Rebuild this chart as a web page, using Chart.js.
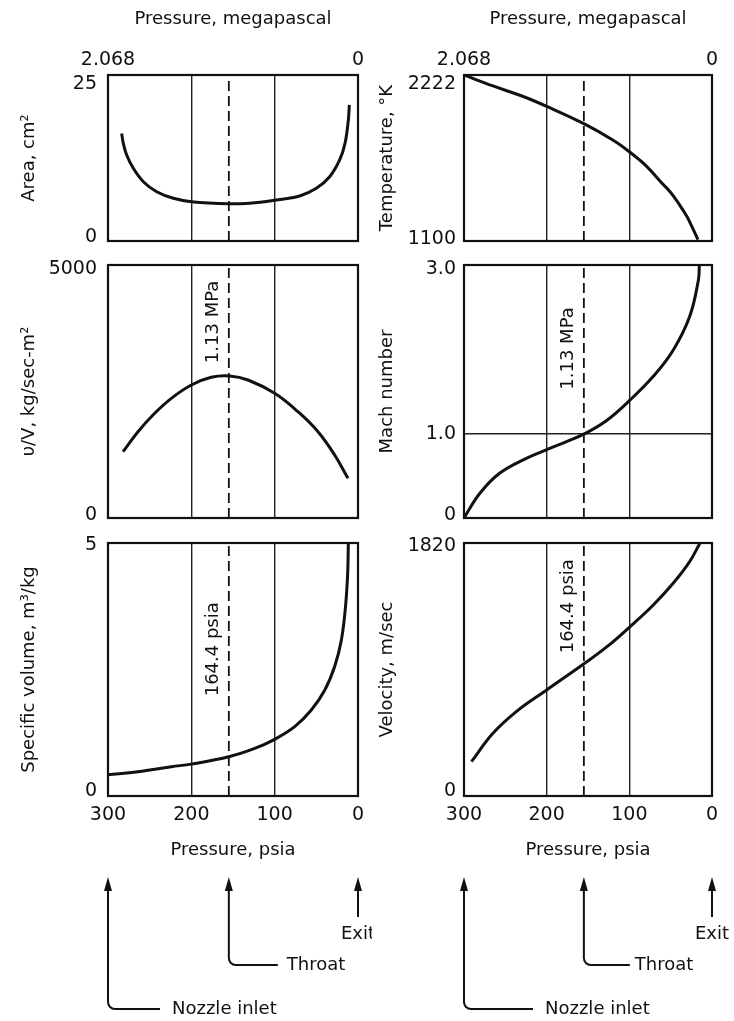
<!DOCTYPE html>
<html><head><meta charset="utf-8">
<script src="https://cdn.jsdelivr.net/npm/chart.js@4/dist/chart.umd.min.js"></script>
<style>
html,body{margin:0;padding:0;background:#fff;}
body{width:734px;height:1021px;position:relative;overflow:hidden;}
canvas{position:absolute;}
</style></head><body>
<canvas id="c11" width="372" height="250" style="left:0;top:0"></canvas>
<canvas id="c12" width="364" height="250" style="left:370px;top:0"></canvas>
<canvas id="c21" width="372" height="277" style="left:0;top:250px"></canvas>
<canvas id="c22" width="364" height="277" style="left:370px;top:250px"></canvas>
<canvas id="c31" width="372" height="494" style="left:0;top:527px"></canvas>
<canvas id="c32" width="364" height="494" style="left:370px;top:527px"></canvas>
<script>
// ---------- data (pressure in psia on x) ----------
const xTicksPsia = [300, 200, 100, 0];
const gridPsia = [200, 100];
const topTickLabels = ['2.068', '', '', '0'];        // megapascal
const bottomTickLabels = ['300', '200', '100', '0'];  // psia
const throatPsia = 155;                               // drawn throat line position
const throatLabelMPa = '1.13 MPa';
const throatLabelPsia = '164.4 psia';
const stationPsia = [300, throatPsia, 0];
const stationNames = ['Nozzle inlet', 'Throat', 'Exit'];

const areaPsia = [283.6, 281.6, 277.6, 269.6, 257.6, 241.6, 221.6, 200, 155, 130, 100, 70, 50, 34, 22, 15.6, 11.6, 10.4];
const areaCm2  = [16.2, 14.7, 12.95, 10.95, 8.93, 7.42, 6.43, 5.92, 5.6, 5.7, 6.15, 6.78, 7.94, 9.68, 12.2, 14.7, 18.2, 20.5];
const areaTicks = [0, 25];
const areaTickLabels = ['0', '25'];

const tempPsia = [300, 265, 230, 200, 155, 120, 100, 80, 63, 50, 39, 30, 23, 17];
const tempK    = [2222, 2148, 2080, 2010, 1893, 1782, 1703, 1610, 1505, 1428, 1342, 1262, 1182, 1110];
const tempTicks = [1100, 2222];
const tempTickLabels = ['1100', '2222'];

const fluxPsia = [282, 264, 244, 224, 200, 176, 154, 132, 100, 72, 48, 28, 12];
const fluxVals = [1310, 1705, 2069, 2365, 2628, 2780, 2806, 2727, 2464, 2100, 1705, 1245, 784];
const fluxTicks = [0, 5000];
const fluxTickLabels = ['0', '5000'];

const machPsia = [300, 281, 257, 224, 200, 176, 154, 127, 99, 71, 47, 27, 16.5, 15.3];
const machVals = [0, 0.29, 0.53, 0.71, 0.81, 0.905, 1.0, 1.16, 1.40, 1.68, 1.99, 2.39, 2.82, 3.0];
const machTicks = [0, 1, 3];
const machTickLabels = ['0', '1.0', '3.0'];
const machGrid = [1];

const volPsia = [300, 264, 224, 200, 154, 124, 100, 76, 56, 40, 28, 20, 15, 12.4, 11.6];
const volVals = [0.42, 0.48, 0.58, 0.63, 0.78, 0.94, 1.12, 1.37, 1.70, 2.09, 2.56, 3.08, 3.74, 4.40, 5.0];
const volTicks = [0, 5];
const volTickLabels = ['0', '5'];

const velPsia = [291, 265, 236, 200, 154, 127, 99, 71, 47, 27, 14.5];
const velVals = [247, 451, 611, 763, 955, 1074, 1219, 1374, 1530, 1686, 1820];
const velTicks = [0, 1820];
const velTickLabels = ['0', '1820'];

// ---------- layout / style ----------
Chart.defaults.font.family = "'DejaVu Sans', 'Liberation Sans', sans-serif";
Chart.defaults.color = '#111';
const INK = '#111';
const COLS = {
  L: {axisW: 108, padR: 14, titlePad: 19, tickPad: 11,
      arrows: {nozzleLen: 52, nozzleGap: 12, throatLen: 49, throatGap: 9}},
  R: {axisW: 94, padR: 22, titlePad: 7, tickPad: 8,
      arrows: {nozzleLen: 69, nozzleGap: 12, throatLen: 46, throatGap: 5}}
};
const ROWS = {
  1: {padT: 0, padB: 9, xH: 75},
  2: {padT: 15, padB: 9, xH: 0},
  3: {padT: 16, padB: 155, xH: 70}
};

function zeroPad(s) { s.paddingTop = 0; s.paddingBottom = 0; s.paddingLeft = 0; s.paddingRight = 0; }

const framePlugin = {
  id: 'frame',
  afterDatasetsDraw(chart) {
    const a = chart.chartArea, ctx = chart.ctx;
    ctx.save(); ctx.strokeStyle = INK; ctx.lineWidth = 2.2;
    ctx.strokeRect(a.left, a.top, a.right - a.left, a.bottom - a.top);
    ctx.restore();
  }
};

function shiftPlugin(shifts) {
  return {
    id: 'shiftLabels',
    beforeDraw(chart) {
      try {
        const items = chart.scales.y.getLabelItems();
        items.forEach((it, i) => {
          if (!it._sh) { it.options.translation[1] += (shifts[i] || 0); it._sh = true; }
        });
      } catch (e) {}
    }
  };
}

function throatTextPlugin(text, frac) {
  return {
    id: 'throatText',
    afterDatasetsDraw(chart) {
      const a = chart.chartArea, ctx = chart.ctx;
      const x = chart.scales.x.getPixelForValue(throatPsia) - 16;
      const y = a.top + frac * (a.bottom - a.top);
      ctx.save();
      ctx.translate(x, y); ctx.rotate(-Math.PI / 2);
      ctx.font = "18px 'DejaVu Sans'"; ctx.fillStyle = INK;
      ctx.textAlign = 'center'; ctx.textBaseline = 'middle';
      ctx.fillText(text, 0, 0);
      ctx.restore();
    }
  };
}

function arrowPlugin(cfg) {
  return {
    id: 'stations',
    afterDraw(chart) {
      const ctx = chart.ctx, xs = chart.scales.x, b = chart.chartArea.bottom;
      const headTop = b + 81, r = 7;
      ctx.save();
      ctx.strokeStyle = INK; ctx.fillStyle = INK; ctx.lineWidth = 2;
      ctx.font = "18px 'DejaVu Sans'"; ctx.textBaseline = 'middle';
      stationPsia.forEach((p, i) => {
        const x = xs.getPixelForValue(p);
        ctx.beginPath();
        ctx.moveTo(x, headTop); ctx.lineTo(x - 4, headTop + 14); ctx.lineTo(x + 4, headTop + 14);
        ctx.closePath(); ctx.fill();
        ctx.beginPath();
        if (i === 2) {
          ctx.moveTo(x, headTop + 10); ctx.lineTo(x, b + 121); ctx.stroke();
          ctx.textAlign = 'center';
          ctx.fillText(stationNames[i], x, b + 138);
        } else {
          const yH = i === 0 ? b + 213 : b + 169;
          const len = i === 0 ? cfg.nozzleLen : cfg.throatLen;
          const gap = i === 0 ? cfg.nozzleGap : cfg.throatGap;
          ctx.moveTo(x, headTop + 10); ctx.lineTo(x, yH - r);
          ctx.arcTo(x, yH, x + r, yH, r); ctx.lineTo(x + len, yH); ctx.stroke();
          ctx.textAlign = 'left';
          ctx.fillText(stationNames[i], x + len + gap, yH);
        }
      });
      ctx.restore();
    }
  };
}

function build(id, o) {
  const col = COLS[o.col], row = ROWS[o.row];
  const yMin = o.yTicks[0], yMax = o.yTicks[o.yTicks.length - 1];
  const plugins = [framePlugin, shiftPlugin(o.shifts)];
  if (o.throatText) plugins.push(throatTextPlugin(o.throatText, o.throatFrac));
  if (o.row === 3) plugins.push(arrowPlugin(col.arrows));
  const xLabels = o.row === 1 ? topTickLabels : bottomTickLabels;
  return new Chart(document.getElementById(id), {
    type: 'line',
    data: {
      datasets: [
        {data: o.px.map((p, i) => ({x: p, y: o.py[i]})), borderColor: INK, borderWidth: 3,
         pointRadius: 0, tension: 0.4, fill: false},
        {data: [{x: throatPsia, y: yMin}, {x: throatPsia, y: yMax}], borderColor: INK,
         borderWidth: 1.8, borderDash: [10, 5], pointRadius: 0, fill: false}
      ]
    },
    options: {
      responsive: false, animation: false, devicePixelRatio: 1,
      layout: {padding: {left: 0, right: col.padR, top: row.padT, bottom: row.padB}},
      plugins: {legend: {display: false}, tooltip: {enabled: false}},
      scales: {
        x: {
          type: 'linear', min: 0, max: 300, reverse: true,
          position: o.row === 1 ? 'top' : 'bottom',
          afterBuildTicks: s => { s.ticks = xTicksPsia.map(v => ({value: v})); },
          afterFit: s => { s.height = row.xH; zeroPad(s); },
          border: {display: false},
          grid: {drawTicks: false, lineWidth: 1.4,
                 color: c => (c.tick && gridPsia.includes(c.tick.value)) ? '#222' : 'rgba(0,0,0,0)'},
          ticks: {display: o.row !== 2, padding: o.row === 1 ? 4 : 7.6, autoSkip: false, maxRotation: 0,
                  font: {size: 19}, color: INK, callback: (v, i) => xLabels[i]},
          title: {display: o.row !== 2,
                  text: o.row === 1 ? 'Pressure, megapascal' : 'Pressure, psia',
                  font: {size: 18}, color: INK,
                  padding: o.row === 1 ? {top: 9, bottom: 0} : {top: 0, bottom: 5}}
        },
        y: {
          type: 'linear', min: yMin, max: yMax, position: 'left',
          afterBuildTicks: s => { s.ticks = o.yTicks.map(v => ({value: v})); },
          afterFit: s => { s.width = col.axisW; zeroPad(s); },
          border: {display: false},
          grid: {drawTicks: false, lineWidth: 1.4,
                 color: c => (o.yGrid && c.tick && o.yGrid.includes(c.tick.value)) ? '#222' : 'rgba(0,0,0,0)'},
          ticks: {padding: col.tickPad, autoSkip: false, font: {size: 19}, color: INK,
                  callback: (v, i) => o.yLabels[i]},
          title: {display: true, text: o.yTitle, font: {size: 18}, color: INK,
                  padding: {top: col.titlePad, bottom: 0}}
        }
      }
    },
    plugins: plugins
  });
}

build('c11', {col: 'L', row: 1, px: areaPsia, py: areaCm2, yTicks: areaTicks, yLabels: areaTickLabels,
              yTitle: 'Area, cm²', shifts: [-4, 9]});
build('c12', {col: 'R', row: 1, px: tempPsia, py: tempK, yTicks: tempTicks, yLabels: tempTickLabels,
              yTitle: 'Temperature, °K', shifts: [-2, 9]});
build('c21', {col: 'L', row: 2, px: fluxPsia, py: fluxVals, yTicks: fluxTicks, yLabels: fluxTickLabels,
              yTitle: 'υ/V, kg/sec-m²', shifts: [-3, 4], throatText: throatLabelMPa, throatFrac: 0.225});
build('c22', {col: 'R', row: 2, px: machPsia, py: machVals, yTicks: machTicks, yLabels: machTickLabels,
              yGrid: machGrid, yTitle: 'Mach number', shifts: [-3, 0, 4],
              throatText: throatLabelMPa, throatFrac: 0.33});
build('c31', {col: 'L', row: 3, px: volPsia, py: volVals, yTicks: volTicks, yLabels: volTickLabels,
              yTitle: 'Specific volume, m³/kg', shifts: [-5, 2], throatText: throatLabelPsia, throatFrac: 0.42});
build('c32', {col: 'R', row: 3, px: velPsia, py: velVals, yTicks: velTicks, yLabels: velTickLabels,
              yTitle: 'Velocity, m/sec', shifts: [-5, 3], throatText: throatLabelPsia, throatFrac: 0.25});
</script>
</body></html>
